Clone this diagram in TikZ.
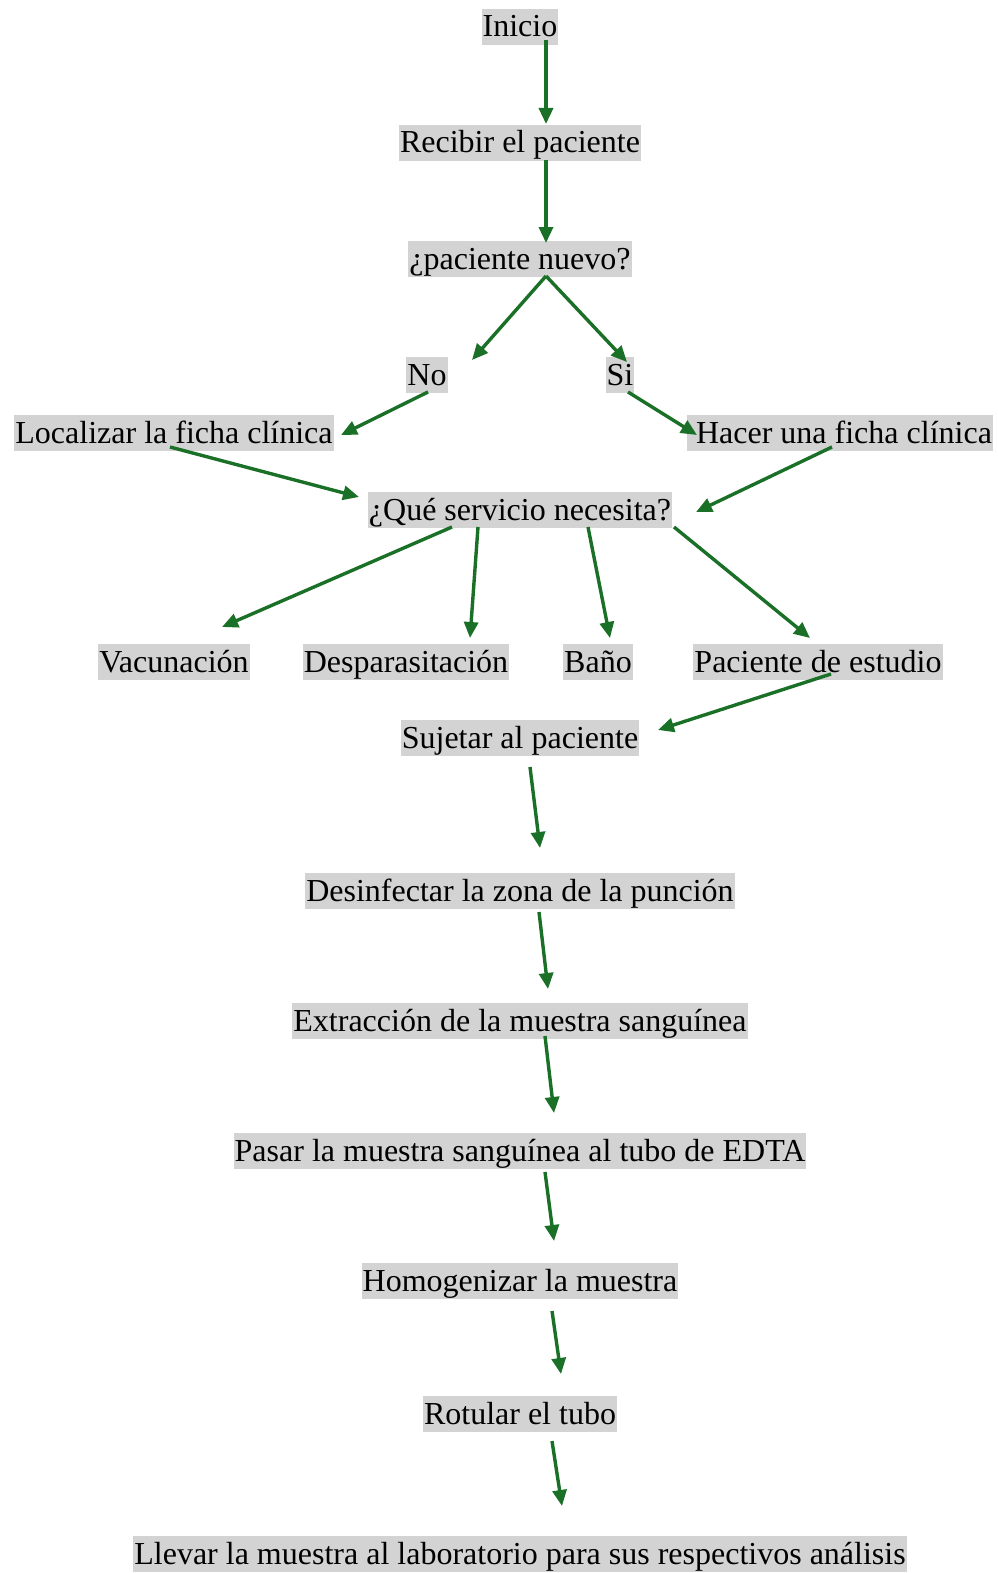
\documentclass[tikz,border=0pt]{standalone}
\usepackage{fontspec}
\setmainfont{Liberation Serif}
\usetikzlibrary{arrows.meta}
\definecolor{verde}{RGB}{27,112,39}
\definecolor{gris}{RGB}{211,211,211}
\begin{document}
\begin{tikzpicture}[x=1pt, y=-1pt, >={Triangle[length=16pt,width=14pt]}]
    \tikzstyle{paso}=[fill=gris, inner xsep=1pt, inner ysep=0pt, text height=28pt, text depth=8pt, font=\fontsize{32}{38}\selectfont]
    \tikzstyle{flecha}=[->, draw=verde, fill=verde, line width=3.4pt]
    \useasboundingbox (0,0) rectangle (997,1573);

    \node[paso] (inicio) at (520,27) {Inicio};
    \node[paso, below of=inicio, node distance=116pt] (recibir) {Recibir el paciente};
    \node[paso, below of=recibir, node distance=116pt] (nuevo) {¿paciente nuevo?};
    \node[paso] (no) at (427,375) {No};
    \node[paso] (si) at (620,375) {Si};
    \node[paso] (localizar) at (174,433) {Localizar la ficha clínica\ };
    \node[paso] (hacer) at (840,433) {\ Hacer una ficha clínica};
    \node[paso, below of=nuevo, node distance=251pt] (servicio) {¿Qué servicio necesita?};
    \node[paso] (vacuna) at (174,662) {Vacunación};
    \node[paso] (desparasita) at (406,662) {Desparasitación};
    \node[paso] (bano) at (598,662) {Baño};
    \node[paso] (estudio) at (818,662) {Paciente de estudio};
    \node[paso, below of=servicio, node distance=228pt] (sujetar) {Sujetar al paciente};
    \node[paso, below of=sujetar, node distance=153pt] (desinfectar) {Desinfectar la zona de la punción};
    \node[paso, below of=desinfectar, node distance=130pt] (extraccion) {Extracción de la muestra sanguínea};
    \node[paso, below of=extraccion, node distance=130pt] (pasar) {Pasar la muestra sanguínea al tubo de EDTA};
    \node[paso, below of=pasar, node distance=130pt] (homogenizar) {Homogenizar la muestra};
    \node[paso, below of=homogenizar, node distance=133pt] (rotular) {Rotular el tubo};
    \node[paso, below of=rotular, node distance=140pt] (llevar) {Llevar la muestra al laboratorio para sus respectivos análisis};

    \draw[flecha] ([shift={(26,13)}]inicio.center) -- ([shift={(26,-19)}]recibir.center);
    \draw[flecha] ([shift={(26,17)}]recibir.center) -- ([shift={(26,-16)}]nuevo.center);
    \draw[flecha] ([shift={(26,17)}]nuevo.center) -- ([shift={(45,-15)}]no.center);
    \draw[flecha] ([shift={(26,17)}]nuevo.center) -- ([shift={(7,-13)}]si.center);
    \draw[flecha] ([shift={(1,17)}]no.center) -- ([shift={(167,2)}]localizar.center);
    \draw[flecha] ([shift={(8,17)}]si.center) -- ([shift={(-143,2)}]hacer.center);
    \draw[flecha] ([shift={(-4,14)}]localizar.center) -- ([shift={(-161,-13)}]servicio.center);
    \draw[flecha] ([shift={(-8,14)}]hacer.center) -- ([shift={(176,2)}]servicio.center);
    \draw[flecha] ([shift={(-68,17)}]servicio.center) -- ([shift={(48,-35)}]vacuna.center);
    \draw[flecha] ([shift={(-42,17)}]servicio.center) -- ([shift={(64,-24)}]desparasita.center);
    \draw[flecha] ([shift={(68,17)}]servicio.center) -- ([shift={(12,-24)}]bano.center);
    \draw[flecha] ([shift={(154,17)}]servicio.center) -- ([shift={(-8,-24)}]estudio.center);
    \draw[flecha] ([shift={(13,12)}]estudio.center) -- ([shift={(138,-8)}]sujetar.center);
    \draw[flecha] ([shift={(10,29)}]sujetar.center) -- ([shift={(20,-43)}]desinfectar.center);
    \draw[flecha] ([shift={(19,21)}]desinfectar.center) -- ([shift={(28,-32)}]extraccion.center);
    \draw[flecha] ([shift={(25,15)}]extraccion.center) -- ([shift={(34,-38)}]pasar.center);
    \draw[flecha] ([shift={(25,21)}]pasar.center) -- ([shift={(34,-40)}]homogenizar.center);
    \draw[flecha] ([shift={(32,30)}]homogenizar.center) -- ([shift={(41,-40)}]rotular.center);
    \draw[flecha] ([shift={(32,27)}]rotular.center) -- ([shift={(42,-48)}]llevar.center);
  \end{tikzpicture}
\end{document}
